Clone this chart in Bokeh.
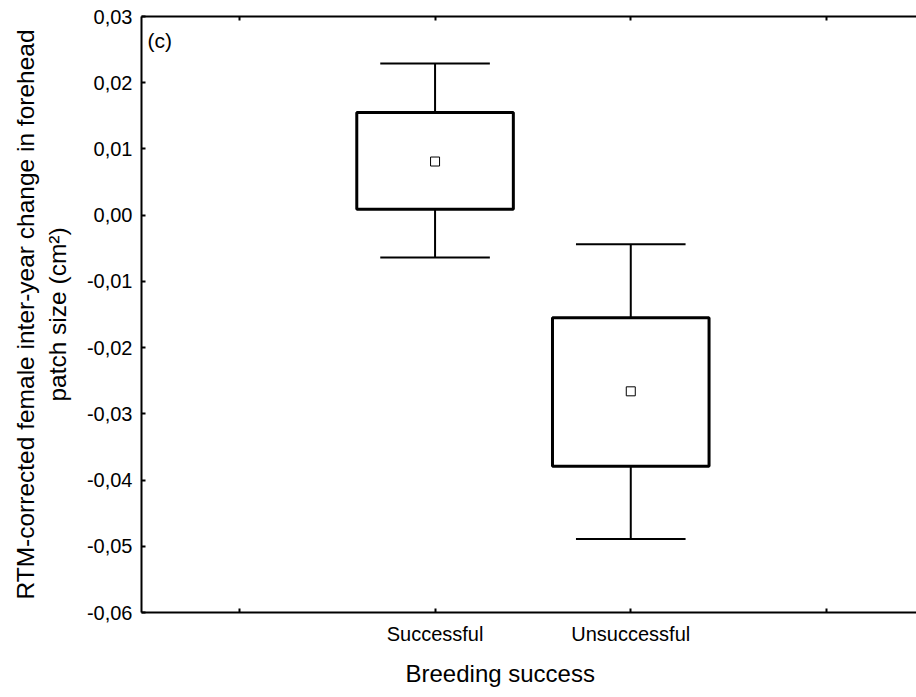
from bokeh.plotting import figure
from bokeh.models import (Range1d, FixedTicker, LinearAxis, CustomJSTickFormatter,
                          ColumnDataSource, Label, Title)
from bokeh.embed import file_html
from bokeh.resources import INLINE

# ---- data ----
groups = ["Successful", "Unsuccessful"]
means = [0.0081, -0.0266]
box_hi = [0.0155, -0.0155]
box_lo = [0.0009, -0.0379]
whisk_hi = [0.0229, -0.0044]
whisk_lo = [-0.0064, -0.0489]

y_ticks = [-0.06, -0.05, -0.04, -0.03, -0.02, -0.01, 0.00, 0.01, 0.02, 0.03]
y_tick_labels = ["-0,06", "-0,05", "-0,04", "-0,03", "-0,02", "-0,01",
                 "0,00", "0,01", "0,02", "0,03"]

x_title = "Breeding success"
y_title = "RTM-corrected female inter-year change in forehead\npatch size (cm\u00b2)"
panel_tag = "(c)"

FONT = "Liberation Sans"

# ---- derived positions ----
xpos = [i + 1 for i in range(len(groups))]
x_ticks = [0] + xpos + [len(groups) + 1]
x_labels = {0: ""}
for xp, g in zip(xpos, groups):
    x_labels[xp] = g
x_labels[len(groups) + 1] = ""

box_w = 0.8
cap_w = 0.56

src = ColumnDataSource(dict(
    x=xpos, mean=means, bhi=box_hi, blo=box_lo, whi=whisk_hi, wlo=whisk_lo,
    left=[v - box_w / 2 for v in xpos], right=[v + box_w / 2 for v in xpos],
    cl=[v - cap_w / 2 for v in xpos], cr=[v + cap_w / 2 for v in xpos],
))

p = figure(width=916, height=697, output_backend="svg", toolbar_location=None,
           x_range=Range1d(-0.5, 3.46), y_range=Range1d(-0.06, 0.03),
           min_border_left=141, min_border_right=0, min_border_top=16,
           min_border_bottom=85, x_axis_location="below")
p.outline_line_color = None
p.background_fill_color = "white"
p.border_fill_color = "white"
p.xgrid.visible = False
p.ygrid.visible = False

# whiskers
p.segment(x0="x", x1="x", y0="wlo", y1="whi", source=src, line_color="black", line_width=2)
p.segment(x0="cl", x1="cr", y0="whi", y1="whi", source=src, line_color="black", line_width=2)
p.segment(x0="cl", x1="cr", y0="wlo", y1="wlo", source=src, line_color="black", line_width=2)
# boxes
p.quad(left="left", right="right", top="bhi", bottom="blo", source=src,
       fill_color="white", line_color="black", line_width=3)
# mean markers
p.scatter(x="x", y="mean", source=src, marker="square", size=9,
          fill_color="white", line_color="black", line_width=1)

# x axis
xa = p.xaxis[0]
xa.ticker = FixedTicker(ticks=x_ticks)
xa.major_label_overrides = x_labels
xa.major_label_text_font = FONT
xa.major_label_text_font_size = "20px"
xa.major_label_text_color = "black"
xa.major_tick_in = 4
xa.major_tick_out = 0
xa.minor_tick_line_color = None
xa.major_label_standoff = 10
xa.axis_line_width = 2
xa.axis_line_color = "black"
xa.major_tick_line_color = "black"
xa.major_tick_line_width = 2

# x title (placed left of the frame centre, as in the reference)
p.add_layout(Title(text=x_title, align="left", offset=264, standoff=21,
                   text_font=FONT, text_font_size="24px", text_font_style="normal",
                   text_color="black"), "below")

# y axis
ya = p.yaxis[0]
ya.ticker = FixedTicker(ticks=y_ticks)
ya.formatter = CustomJSTickFormatter(args=dict(tvals=y_ticks, tlabels=y_tick_labels), code="""
    let best = 0, bd = 1e9;
    for (let i = 0; i < tvals.length; i++) {
        const d = Math.abs(tvals[i] - tick);
        if (d < bd) { bd = d; best = i; }
    }
    return tlabels[best];
""")
ya.major_label_text_font = FONT
ya.major_label_text_font_size = "20px"
ya.major_label_text_color = "black"
ya.major_tick_in = 4
ya.major_tick_out = 0
ya.minor_tick_line_color = None
ya.major_label_standoff = 9
ya.axis_line_width = 2
ya.axis_line_color = "black"
ya.major_tick_line_color = "black"
ya.major_tick_line_width = 2
ya.axis_label = y_title
ya.axis_label_text_font = FONT
ya.axis_label_text_font_size = "24.5px"
ya.axis_label_text_font_style = "normal"
ya.axis_label_text_color = "black"
ya.axis_label_standoff = 13

# top axis (frame line with inward ticks)
ta = LinearAxis(ticker=FixedTicker(ticks=x_ticks),
                major_label_overrides={t: "" for t in x_ticks},
                major_label_text_font_size="1px", major_label_standoff=0,
                major_tick_in=4, major_tick_out=0, minor_tick_line_color=None,
                axis_line_width=2, axis_line_color="black",
                major_tick_line_color="black", major_tick_line_width=2)
p.add_layout(ta, "above")

p.add_layout(Label(x=-0.5, y=0.03, x_offset=6, y_offset=-12, text=panel_tag,
                   text_font=FONT, text_font_size="21px", text_color="black",
                   text_baseline="top", text_align="left"))

open("out.html", "w").write(file_html(p, INLINE))
